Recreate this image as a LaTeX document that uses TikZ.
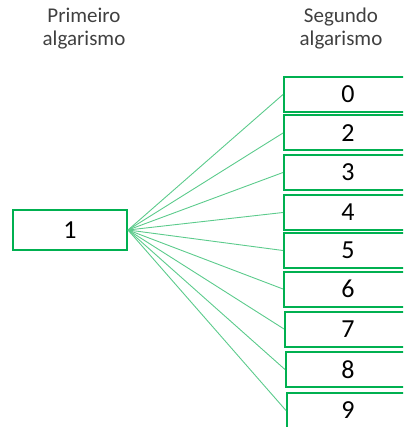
\documentclass[tikz,border=0pt]{standalone}
\usepackage{fontspec}
\setmainfont{Carlito}
\definecolor{boxgreen}{HTML}{00B050}
\definecolor{linegreen}{HTML}{5CCB8C}
\definecolor{labelgray}{HTML}{404040}
\begin{document}
\begin{tikzpicture}[x=1pt,y=-1pt,
  digitbox/.style={draw=boxgreen,line width=2pt,rectangle,inner sep=0pt,
    font=\fontsize{26}{26}\selectfont,fill=white},
  rbox/.style={digitbox,minimum width=150pt,minimum height=35pt},
  conn/.style={draw=linegreen,line width=0.9pt},
  hdr/.style={align=center,text=labelgray,font=\fontsize{21}{23}\selectfont,inner sep=0pt}]
\useasboundingbox (0,0) rectangle (403,427);
\clip (0,0) rectangle (403,427);
\node[hdr] (h1) at (84,29) {Primeiro\\algarismo};
\node[hdr] (h2) at (341,29) {Segundo\\algarismo};
\node[digitbox,minimum width=114pt,minimum height=40pt] (b1) at (70,230) {1};
\node[rbox] (r0) at (359,94.5) {\makebox[0pt]{\hspace*{-22pt}0}};
\node[rbox] (r2) at (359,133) {\makebox[0pt]{\hspace*{-22pt}2}};
\node[rbox] (r3) at (359,172.5) {\makebox[0pt]{\hspace*{-22pt}3}};
\node[rbox] (r4) at (359,212.5) {\makebox[0pt]{\hspace*{-22pt}4}};
\node[rbox] (r5) at (359,250.5) {\makebox[0pt]{\hspace*{-22pt}5}};
\node[rbox] (r6) at (359,289) {\makebox[0pt]{\hspace*{-22pt}6}};
\node[rbox] (r7) at (360,329) {\makebox[0pt]{\hspace*{-24pt}7}};
\node[rbox] (r8) at (361,369.5) {\makebox[0pt]{\hspace*{-26pt}8}};
\node[rbox] (r9) at (362,410.5) {\makebox[0pt]{\hspace*{-28pt}9}};
\foreach \n in {r0,r2,r3,r4,r5,r6,r7,r8,r9}{
  \draw[conn] (b1.east) -- (\n.west);
}
\end{tikzpicture}
\end{document}
